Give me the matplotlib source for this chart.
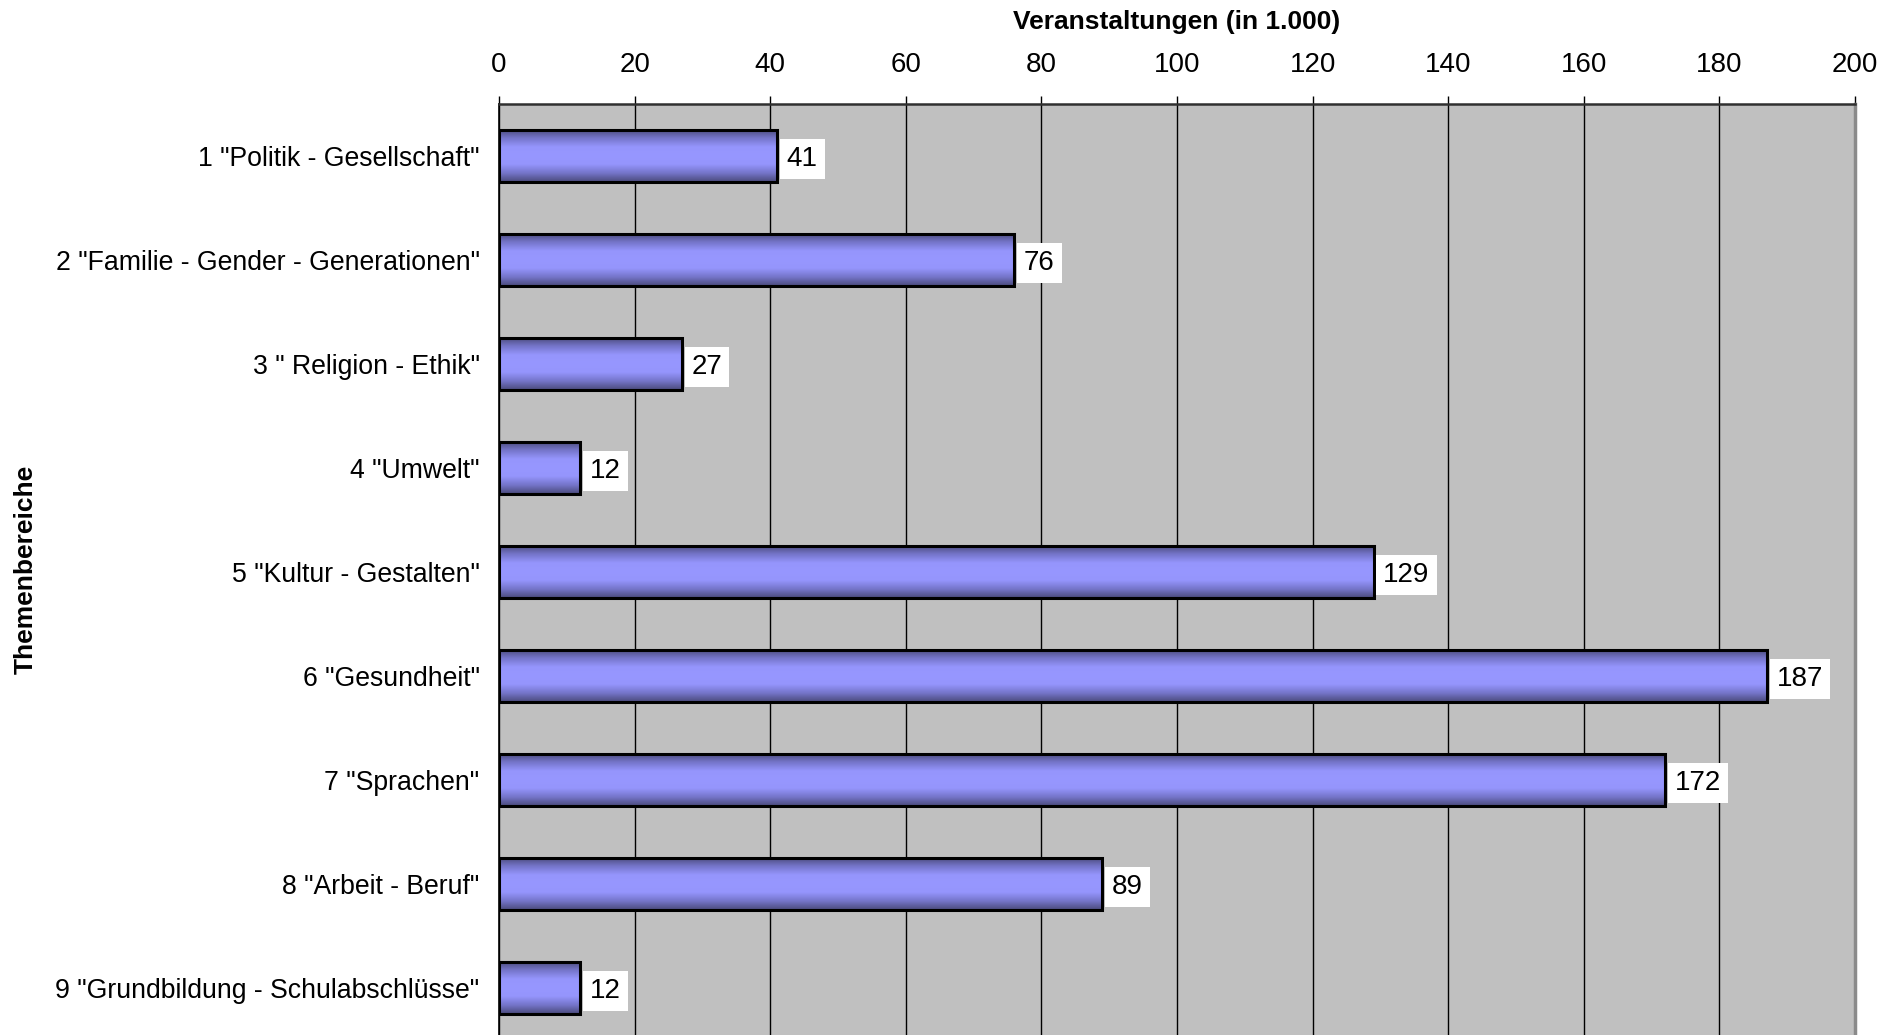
import matplotlib
matplotlib.use("Agg")
import matplotlib.pyplot as plt
import numpy as np
from matplotlib.colors import LinearSegmentedColormap

plt.rcParams['font.family'] = ['Liberation Sans', 'DejaVu Sans']

categories = ['1 "Politik - Gesellschaft"', '2 "Familie - Gender - Generationen"',
              '3 " Religion - Ethik"', '4 "Umwelt"', '5 "Kultur - Gestalten"',
              '6 "Gesundheit"', '7 "Sprachen"', '8 "Arbeit - Beruf"',
              '9 "Grundbildung - Schulabschlüsse"']
values = [41, 76, 27, 12, 129, 187, 172, 89, 12]
xticks = [0, 20, 40, 60, 80, 100, 120, 140, 160, 180, 200]

fig = plt.figure(figsize=(18.99, 10.35), dpi=100)
ax = fig.add_axes([499/1899, 0.0, (1855-499)/1899, 1 - 104/1035])
ax.set_facecolor('#c0c0c0')

y = np.arange(len(categories))
h = 0.5
cmap = LinearSegmentedColormap.from_list('g', ['#4a4a7a', '#7474c8', '#9595fc', '#9797ff',
                                               '#9595fc', '#7474c8', '#4a4a7a'])
grad = np.linspace(0, 1, 256).reshape(-1, 1)
for yi, v in zip(y, values):
    ax.imshow(grad, aspect='auto', cmap=cmap, extent=(0, v, yi + h/2, yi - h/2),
              zorder=3, interpolation='bilinear')
ax.barh(y, values, height=h, facecolor='none', edgecolor='black', linewidth=2.2, zorder=4)

for yi, v in zip(y, values):
    ax.annotate(str(v), xy=(v, yi), xytext=(7, 0), textcoords='offset points',
                ha='left', va='center_baseline', fontsize=20, zorder=5,
                bbox=dict(boxstyle='square,pad=0.25', facecolor='white', edgecolor='none'))

ax.set_xlim(0, 200)
ax.set_ylim(8.45, -0.5)
ax.set_xticks(xticks)
ax.set_yticks(y)
ax.set_yticklabels(categories, fontsize=19.2)
ax.xaxis.tick_top()
ax.xaxis.set_label_position('top')
ax.tick_params(axis='x', labelsize=20, length=6, width=1, direction='out', pad=13)
ax.tick_params(axis='y', length=0, pad=14)
ax.grid(axis='x', color='black', linewidth=1, zorder=1)
ax.set_axisbelow(True)
ax.set_xlabel('Veranstaltungen (in 1.000)', fontsize=19, fontweight='bold', labelpad=16)
ax.set_ylabel('Themenbereiche', fontsize=19, fontweight='bold')
ax.yaxis.set_label_coords(-(499-38)/1356, 0.5)

ax.spines['bottom'].set_visible(False)
ax.spines['top'].set_color('#303030')
ax.spines['top'].set_linewidth(1.8)
ax.spines['left'].set_color('black')
ax.spines['left'].set_linewidth(1.2)
ax.spines['right'].set_color('#8a8a8a')
ax.spines['right'].set_linewidth(2.5)

fig.savefig('out.png', dpi=100)
